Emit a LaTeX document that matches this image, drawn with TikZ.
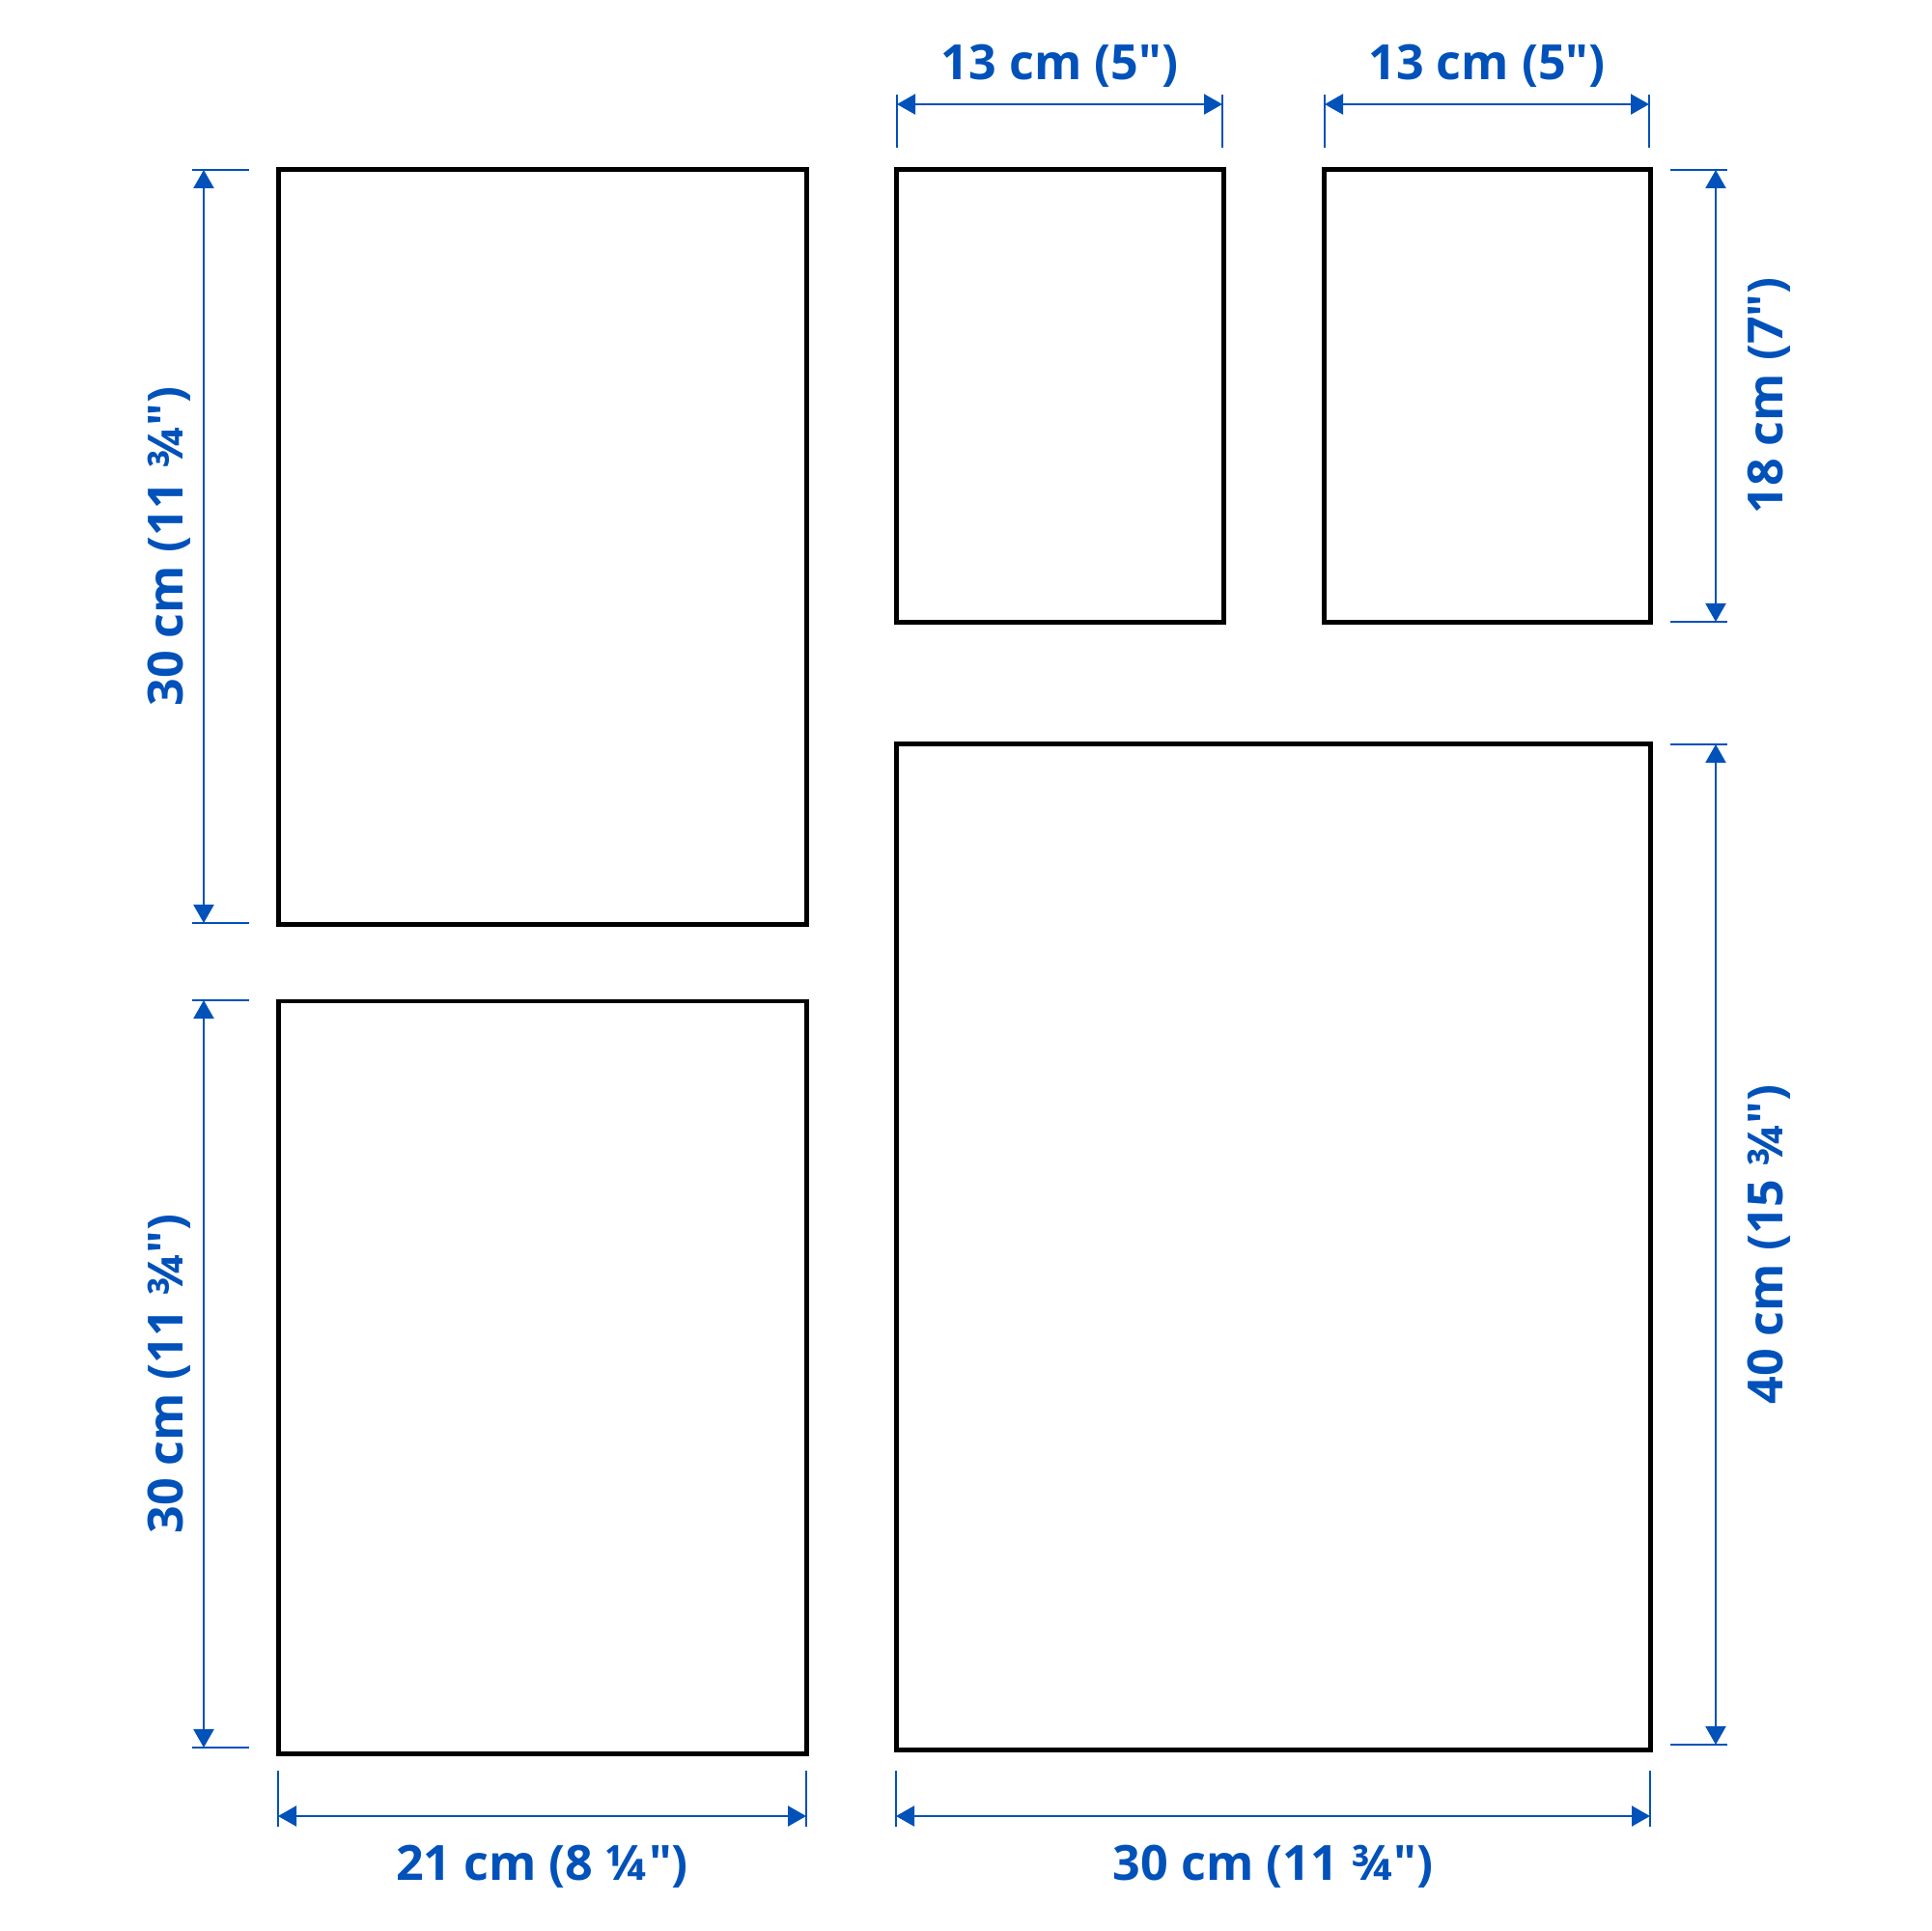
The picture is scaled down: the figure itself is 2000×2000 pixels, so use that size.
\documentclass[tikz,border=0pt]{standalone}
\usepackage{fontspec}
\newfontfamily\dimfam{Open Sans}
\usepackage{xcolor}
\usepackage{tikz}
\usetikzlibrary{arrows.meta}
\definecolor{dimblue}{RGB}{0,81,186}
\newcommand{\dimfont}{\dimfam\fontsize{14.3}{17}\bfseries\selectfont}
\tikzstyle{frame} = [rectangle, draw=black, line width=0.5mm, inner sep=0pt, outer sep=0pt]
\tikzstyle{dimline} = [draw=dimblue, line width=0.22mm, {Triangle[length=1.9mm,width=2.1mm]}-{Triangle[length=1.9mm,width=2.1mm]}]
\tikzstyle{extline} = [draw=dimblue, line width=0.22mm]
\tikzstyle{dimtext} = [text=dimblue, font=\dimfont, inner sep=0pt]

\begin{document}
\begin{tikzpicture}[x=0.1mm, y=0.1mm]
        \useasboundingbox (0,0) rectangle (2000,2000);

        % frames
        \node (frameA) [frame, minimum width=54.7mm, minimum height=78.2mm] at (561.5,1433) {};
        \node (frameB) [frame, minimum width=54.7mm, minimum height=78.0mm] at (561.5,573) {};
        \node (frameC) [frame, minimum width=33.9mm, minimum height=46.9mm] at (1097.5,1589.5) {};
        \node (frameD) [frame, minimum width=33.8mm, minimum height=46.9mm] at (1540,1589.5) {};
        \node (frameE) [frame, minimum width=78.1mm, minimum height=104.3mm] at (1318.5,708.5) {};

        % dimension ends
        \coordinate (topC1) at (929,1892);
        \coordinate (topC2) at (1266,1892);
        \coordinate (topD1) at (1372,1892);
        \coordinate (topD2) at (1708,1892);
        \coordinate (leftA1) at (211,1824);
        \coordinate (leftA2) at (211,1044);
        \coordinate (leftB1) at (211,964);
        \coordinate (leftB2) at (211,190);
        \coordinate (rightD1) at (1777,1824);
        \coordinate (rightD2) at (1777,1356);
        \coordinate (rightE1) at (1777,1229);
        \coordinate (rightE2) at (1777,193);
        \coordinate (botB1) at (288,119);
        \coordinate (botB2) at (835,119);
        \coordinate (botE1) at (928,119);
        \coordinate (botE2) at (1709,119);

        % extension lines
        \draw [extline] ([yshift=1mm]topC1) -- ([yshift=-4.5mm]topC1);
        \draw [extline] ([yshift=1mm]topC2) -- ([yshift=-4.5mm]topC2);
        \draw [extline] ([yshift=1mm]topD1) -- ([yshift=-4.5mm]topD1);
        \draw [extline] ([yshift=1mm]topD2) -- ([yshift=-4.5mm]topD2);
        \draw [extline] ([xshift=-1.2mm]leftA1) -- ([xshift=4.7mm]leftA1);
        \draw [extline] ([xshift=-1.2mm]leftA2) -- ([xshift=4.7mm]leftA2);
        \draw [extline] ([xshift=-1.2mm]leftB1) -- ([xshift=4.7mm]leftB1);
        \draw [extline] ([xshift=-1.2mm]leftB2) -- ([xshift=4.7mm]leftB2);
        \draw [extline] ([xshift=-4.7mm]rightD1) -- ([xshift=1.2mm]rightD1);
        \draw [extline] ([xshift=-4.7mm]rightD2) -- ([xshift=1.2mm]rightD2);
        \draw [extline] ([xshift=-4.7mm]rightE1) -- ([xshift=1.2mm]rightE1);
        \draw [extline] ([xshift=-4.7mm]rightE2) -- ([xshift=1.2mm]rightE2);
        \draw [extline] ([yshift=4.7mm]botB1) -- ([yshift=-1.1mm]botB1);
        \draw [extline] ([yshift=4.7mm]botB2) -- ([yshift=-1.1mm]botB2);
        \draw [extline] ([yshift=4.7mm]botE1) -- ([yshift=-1.1mm]botE1);
        \draw [extline] ([yshift=4.7mm]botE2) -- ([yshift=-1.1mm]botE2);

        % dimension arrows
        \draw [dimline] (topC1) -- node[dimtext, anchor=base, yshift=2.5mm] (lblC) {13 cm (5")} (topC2);
        \draw [dimline] (topD1) -- node[dimtext, anchor=base, yshift=2.5mm] (lblD) {13 cm (5")} (topD2);
        \draw [dimline] (leftA1) -- node[dimtext, anchor=base, xshift=-2.2mm, rotate=90] (lblA) {30 cm (11 ¾")} (leftA2);
        \draw [dimline] (leftB1) -- node[dimtext, anchor=base, xshift=-2.2mm, rotate=90] (lblB) {30 cm (11 ¾")} (leftB2);
        \draw [dimline] (rightD1) -- node[dimtext, anchor=base, xshift=6.9mm, rotate=90] (lblDh) {18 cm (7")} (rightD2);
        \draw [dimline] (rightE1) -- node[dimtext, anchor=base, xshift=6.9mm, rotate=90] (lblEh) {40 cm (15 ¾")} (rightE2);
        \draw [dimline] (botB1) -- node[dimtext, anchor=base, yshift=-6.7mm] (lblBw) {21 cm (8 ¼")} (botB2);
        \draw [dimline] (botE1) -- node[dimtext, anchor=base, yshift=-6.7mm] (lblEw) {30 cm (11 ¾")} (botE2);
    \end{tikzpicture}
\end{document}
